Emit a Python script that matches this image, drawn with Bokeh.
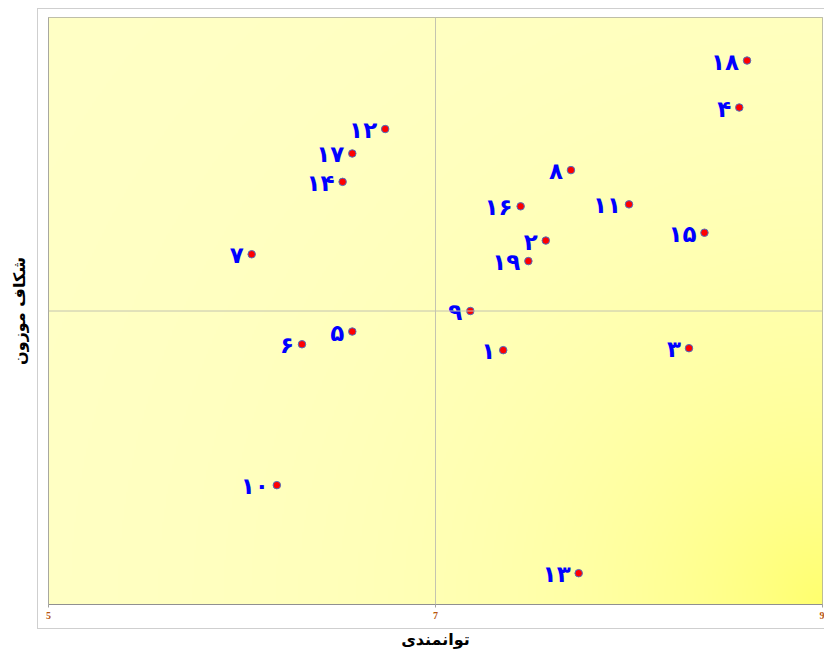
import numpy as np
from bokeh.plotting import figure
from bokeh.models import Span, FixedTicker, ColumnDataSource
from bokeh.core.properties import value
from bokeh.embed import file_html
from bokeh.resources import INLINE

# ---- data ----
labels = ["۱", "۲", "۳", "۴", "۵", "۶", "۷", "۸", "۹", "۱۰",
          "۱۱", "۱۲", "۱۳", "۱۴", "۱۵", "۱۶", "۱۷", "۱۸", "۱۹"]
capability = [7.35, 7.57, 8.31, 8.57, 6.57, 6.31, 6.05, 7.70, 7.18, 6.18,
              8.00, 6.74, 7.74, 6.52, 8.39, 7.44, 6.57, 8.61, 7.48]
weighted_gap = [-0.40, 0.72, -0.38, 2.08, -0.21, -0.34, 0.58, 1.44, 0.00, -1.78,
                1.09, 1.86, -2.68, 1.32, 0.80, 1.07, 1.61, 2.56, 0.51]
x_ticks = [5, 7, 9]
x_min, x_max = 5, 9
y_min, y_max = -3, 3
x_mid, y_mid = 7, 0

src = ColumnDataSource(dict(x=capability, y=weighted_gap, t=labels))

# light-grey chart-area border drawn behind the transparent canvas with CSS
line = "linear-gradient(#CFCFCF,#CFCFCF)"
css_bg = (f"{line} 37px 8px / 800px 1px no-repeat, "
          f"{line} 37px 628px / 800px 1px no-repeat, "
          f"{line} 37px 8px / 1px 621px no-repeat, white")

p = figure(width=824, height=657, output_backend="svg", toolbar_location=None,
           x_range=(x_min, x_max), y_range=(y_min, y_max),
           min_border_left=48, min_border_right=2, min_border_top=17, min_border_bottom=53,
           background_fill_color="#FFFFC8", border_fill_color=None,
           styles={"background": css_bg})

# gradient background
nx, ny = 387, 294
u = (np.arange(nx) + 0.5) / nx
v = (np.arange(ny) + 0.5) / ny
U, V = np.meshgrid(u, v)
dx = (1 - U) * 774
dy = V * 587
d = np.sqrt(dx ** 2 + dy ** 2)
b = 110 + 90 * (1 - np.exp(-d / 260.0))
img = np.empty((ny, nx), dtype=np.uint32)
view = img.view(dtype=np.uint8).reshape((ny, nx, 4))
view[:, :, 0] = 255
view[:, :, 1] = 255
view[:, :, 2] = np.clip(b, 0, 255).astype(np.uint8)
view[:, :, 3] = 255
p.image_rgba(image=[img], x=x_min, y=y_min, dw=x_max - x_min, dh=y_max - y_min)

p.grid.visible = False
p.outline_line_color = "#A8A8A0"

p.add_layout(Span(location=x_mid, dimension="height", line_color="#C4C4B0", line_width=1))
p.add_layout(Span(location=y_mid, dimension="width", line_color="#C4C4B0", line_width=1))

p.scatter("x", "y", source=src, size=7.5, fill_color="#FF0000", line_color="#5070C0", line_width=1)
p.text("x", "y", text="t", source=src, x_offset=-8, y_offset=1, text_align="right", text_baseline="middle",
       text_font=value("DejaVu Sans"), text_font_style="bold", text_font_size="23px",
       text_color="#0000FF")

# axes
p.xaxis.ticker = FixedTicker(ticks=x_ticks)
p.xaxis.minor_tick_line_color = None
p.xaxis.major_tick_in = 0
p.xaxis.major_tick_out = 3
p.xaxis.major_tick_line_color = "#A0A0A0"
p.xaxis.axis_line_color = "#909090"
p.xaxis.major_label_text_font = "Liberation Serif"
p.xaxis.major_label_text_font_style = "bold"
p.xaxis.major_label_text_font_size = "10px"
p.xaxis.major_label_text_color = "#B8560E"
p.xaxis.major_label_standoff = 4
p.xaxis.axis_label = "توانمندی"
p.xaxis.axis_label_text_font = "DejaVu Sans"
p.xaxis.axis_label_text_font_style = "bold"
p.xaxis.axis_label_text_font_size = "16px"
p.xaxis.axis_label_text_color = "black"
p.xaxis.axis_label_standoff = 8

p.yaxis.ticker = FixedTicker(ticks=[])
p.yaxis.minor_tick_line_color = None
p.yaxis.major_tick_line_color = None
p.yaxis.axis_line_color = "#A8A8A0"
p.yaxis.axis_label = "شکاف موزون"
p.yaxis.axis_label_text_font = "DejaVu Sans"
p.yaxis.axis_label_text_font_style = "bold"
p.yaxis.axis_label_text_font_size = "16px"
p.yaxis.axis_label_text_color = "black"
p.yaxis.axis_label_standoff = 20

open("out.html", "w").write(file_html(p, INLINE))
